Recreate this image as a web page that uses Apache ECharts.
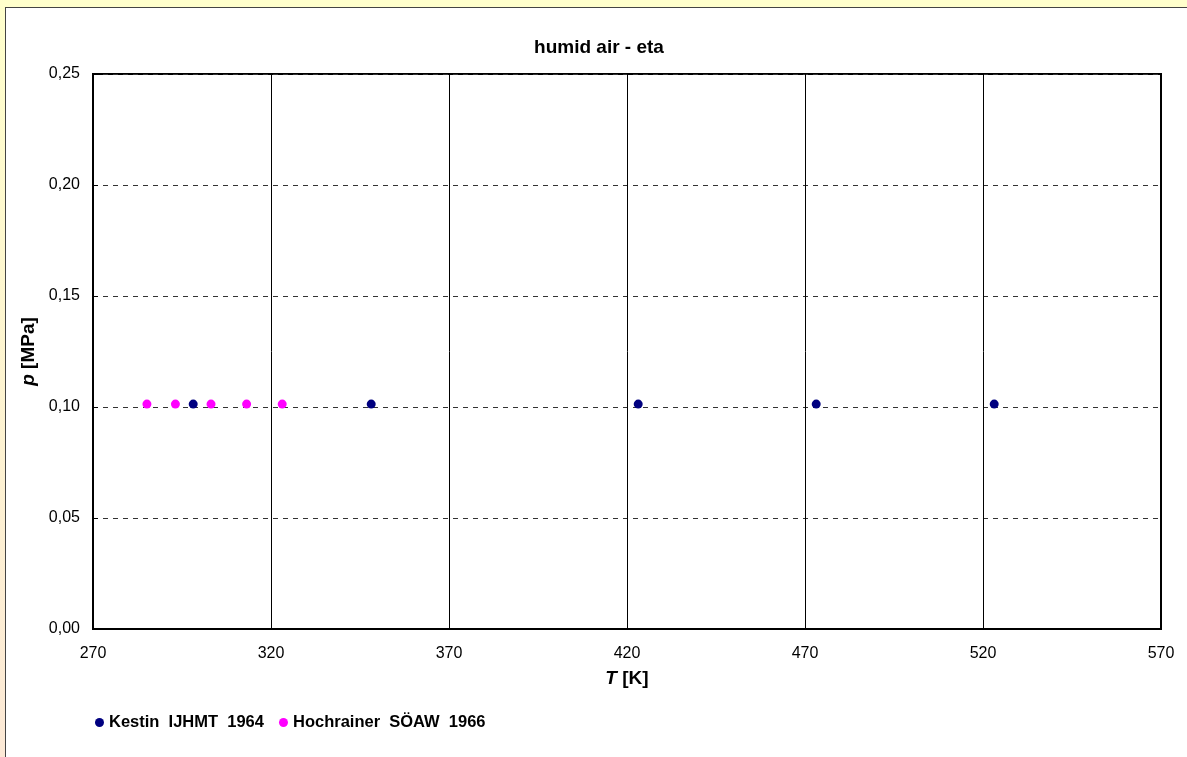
<!DOCTYPE html>
<html>
<head>
<meta charset="utf-8">
<script src="https://cdn.jsdelivr.net/npm/echarts@6/dist/echarts.min.js"></script>
<style>
  html, body { margin: 0; padding: 0; overflow: hidden; }
  body { width: 1187px; height: 757px; background: linear-gradient(to bottom, #FFFFCC, #FCE9D6); position: relative; }
  #panel { position: absolute; left: 5px; top: 7px; width: 1190px; height: 760px; background: #fff; border: 1px solid #444; }
  #main { position: absolute; left: 0; top: 0; width: 1187px; height: 757px; }
</style>
</head>
<body>
<div id="panel"></div>
<div id="main"></div>
<script>
// Werte (T in K, p in MPa)
var kestinT = [298.15, 348.15, 423.15, 473.15, 523.15];
var kestinP = [0.101325, 0.101325, 0.101325, 0.101325, 0.101325];
var hochT = [285.15, 293.15, 303.15, 313.15, 323.15];
var hochP = [0.101325, 0.101325, 0.101325, 0.101325, 0.101325];
var seriesNames = ['Kestin  IJHMT  1964', 'Hochrainer  SÖAW  1966'];
var seriesColors = ['#000080', '#FF00FF'];

function pairs(xs, ys) {
  var out = [];
  for (var i = 0; i < xs.length; i++) out.push([xs[i], ys[i]]);
  return out;
}

var myChart = echarts.init(document.getElementById('main'));
var fontFam = 'Liberation Sans, Arial, sans-serif';
var option = {
  backgroundColor: 'transparent',
  animation: false,
  title: {
    text: 'humid air - eta',
    left: 594, top: 33, textAlign: 'center',
    textStyle: { fontFamily: fontFam, fontSize: 19, fontWeight: 'bold', color: '#000' }
  },
  legend: {
    left: 90, top: 709,
    itemWidth: 9, itemHeight: 9, itemGap: 15,
    icon: 'circle',
    data: seriesNames,
    textStyle: { fontFamily: fontFam, fontSize: 16.5, fontWeight: 'bold', color: '#000' }
  },
  grid: {
    left: 93, top: 74, right: 26, bottom: 128,
    show: true, borderColor: '#000', borderWidth: 2, backgroundColor: '#fff'
  },
  xAxis: {
    type: 'value', min: 270, max: 570, interval: 50,
    name: '{i|T} [K]', nameLocation: 'middle', nameGap: 40,
    nameTextStyle: {
      fontFamily: fontFam, fontSize: 19, fontWeight: 'bold', color: '#000',
      rich: { i: { fontFamily: fontFam, fontSize: 19, fontWeight: 'bold', fontStyle: 'italic', color: '#000' } }
    },
    axisLine: { show: true, onZero: false, lineStyle: { color: '#000', width: 2 } },
    axisTick: { show: true, inside: true, length: 5, lineStyle: { color: '#000' } },
    axisLabel: { fontFamily: fontFam, fontSize: 16, color: '#000', margin: 17 },
    splitLine: { show: true, lineStyle: { color: '#000', width: 1 } }
  },
  yAxis: {
    type: 'value', min: 0, max: 0.25, interval: 0.05,
    name: '{i|p} [MPa]', nameLocation: 'middle', nameGap: 52, nameRotate: 90,
    nameTextStyle: {
      fontFamily: fontFam, fontSize: 19, fontWeight: 'bold', color: '#000',
      rich: { i: { fontFamily: fontFam, fontSize: 19, fontWeight: 'bold', fontStyle: 'italic', color: '#000' } }
    },
    axisLine: { show: true, lineStyle: { color: '#000', width: 2 } },
    axisTick: { show: true, inside: true, length: 5, lineStyle: { color: '#000' } },
    axisLabel: {
      fontFamily: fontFam, fontSize: 16, color: '#000', margin: 13,
      formatter: function (v) { return v.toFixed(2).replace('.', ','); }
    },
    splitLine: { show: true, lineStyle: { color: '#333', width: 1, type: [5, 5] } }
  },
  series: [
    {
      name: seriesNames[0], type: 'scatter', symbol: 'circle', symbolSize: 9,
      itemStyle: { color: seriesColors[0], opacity: 1 },
      data: pairs(kestinT, kestinP), z: 3
    },
    {
      name: seriesNames[1], type: 'scatter', symbol: 'circle', symbolSize: 9,
      itemStyle: { color: seriesColors[1], opacity: 1 },
      data: pairs(hochT, hochP), z: 4
    }
  ]
};
myChart.setOption(option);
</script>
</body>
</html>
